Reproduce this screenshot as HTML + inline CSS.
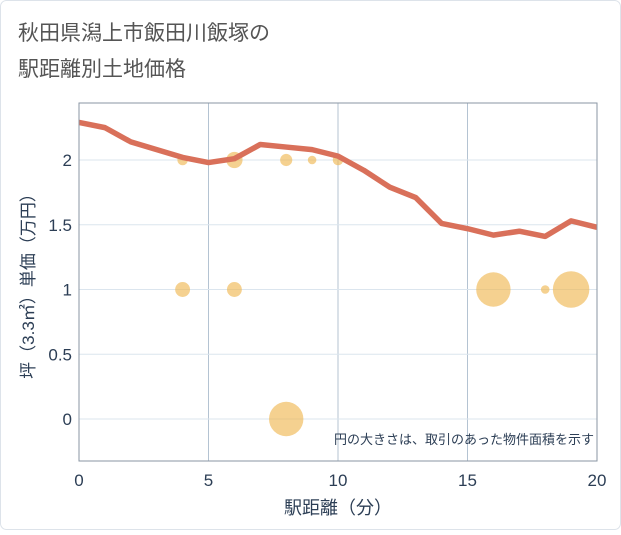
<!DOCTYPE html>
<html><head><meta charset="utf-8"><style>
body{margin:0;background:#fff;}
svg text{font-family:"Liberation Sans","Noto Sans CJK JP",sans-serif;}
</style></head><body>
<svg width="621" height="530" xmlns="http://www.w3.org/2000/svg">
<rect x="0.5" y="0.5" width="620" height="529" rx="6" fill="#fff" stroke="#dde3ea"/>
<text x="18" y="40" font-size="21" fill="#555">秋田県潟上市飯田川飯塚の</text>
<text x="18" y="76" font-size="21" fill="#555">駅距離別土地価格</text>
<g id="grid"></g>
<g id="bubbles"></g>
<g id="line"></g>
<rect x="79" y="103" width="518" height="358" fill="none" stroke="#8a96a3"/>
<g id="ticks"></g>
<text x="338" y="514" font-size="18" fill="#2c3e55" text-anchor="middle">駅距離（分）</text>
<text transform="translate(34,282) rotate(-90)" font-size="17" fill="#2c3e55" text-anchor="middle">坪（3.3㎡）単価（万円）</text>
<text x="594" y="444" font-size="13" fill="#2c3e55" text-anchor="end">円の大きさは、取引のあった物件面積を示す</text>
</svg>
<script>
const NS="http://www.w3.org/2000/svg";
const lineX=[0,1,2,3,4,5,6,7,8,9,10,11,12,13,14,15,16,17,18,19,20];
const lineY=[2.29,2.25,2.14,2.08,2.02,1.98,2.01,2.12,2.10,2.08,2.03,1.92,1.79,1.71,1.51,1.47,1.42,1.45,1.41,1.53,1.48];
const bubX=[4,6,8,9,10,4,6,8,16,18,19];
const bubY=[2,2,2,2,2,1,1,0,1,1,1];
const bubS=[1.5,3.6,2,1,1.5,3,3,16,16,1,18];
const xTicks=[0,5,10,15,20];
const yTicks=[0,0.5,1,1.5,2];
const sx=v=>79+v*25.9;
const sy=v=>419-v*129.5;
function mk(tag,attrs,parent){const e=document.createElementNS(NS,tag);for(const k in attrs)e.setAttribute(k,attrs[k]);document.getElementById(parent).appendChild(e);return e;}
xTicks.forEach(t=>{
 if(t>0&&t<20){const g=mk('line',{x1:sx(t),x2:sx(t),y1:103,y2:461,stroke:'#b4c3d2'},'grid');
 
 }
 const l=mk('text',{x:sx(t),y:486,'font-size':17,fill:'#2c3e55','text-anchor':'middle'},'ticks');l.textContent=t;
 
 
});
yTicks.forEach(t=>{
 const g=mk('line',{x1:79,x2:597,y1:sy(t),y2:sy(t),stroke:'#dbe5ee'},'grid');
 
 
 const l=mk('text',{x:72,y:sy(t)+6,'font-size':17,fill:'#2c3e55','text-anchor':'end'},'ticks');l.textContent=t;
 
 
});
bubX.forEach((x,i)=>{
 const c=mk('circle',{cx:sx(x),cy:sy(bubY[i]),r:4.3*Math.sqrt(bubS[i]),fill:'#f0b955','fill-opacity':0.65},'bubbles');
 
 
});
const p=mk('polyline',{points:lineX.map((x,i)=>sx(x)+','+sy(lineY[i])).join(' '),fill:'none',stroke:'#d9705a','stroke-width':5.5,'stroke-linejoin':'round'},'line');


</script>
</body></html>
